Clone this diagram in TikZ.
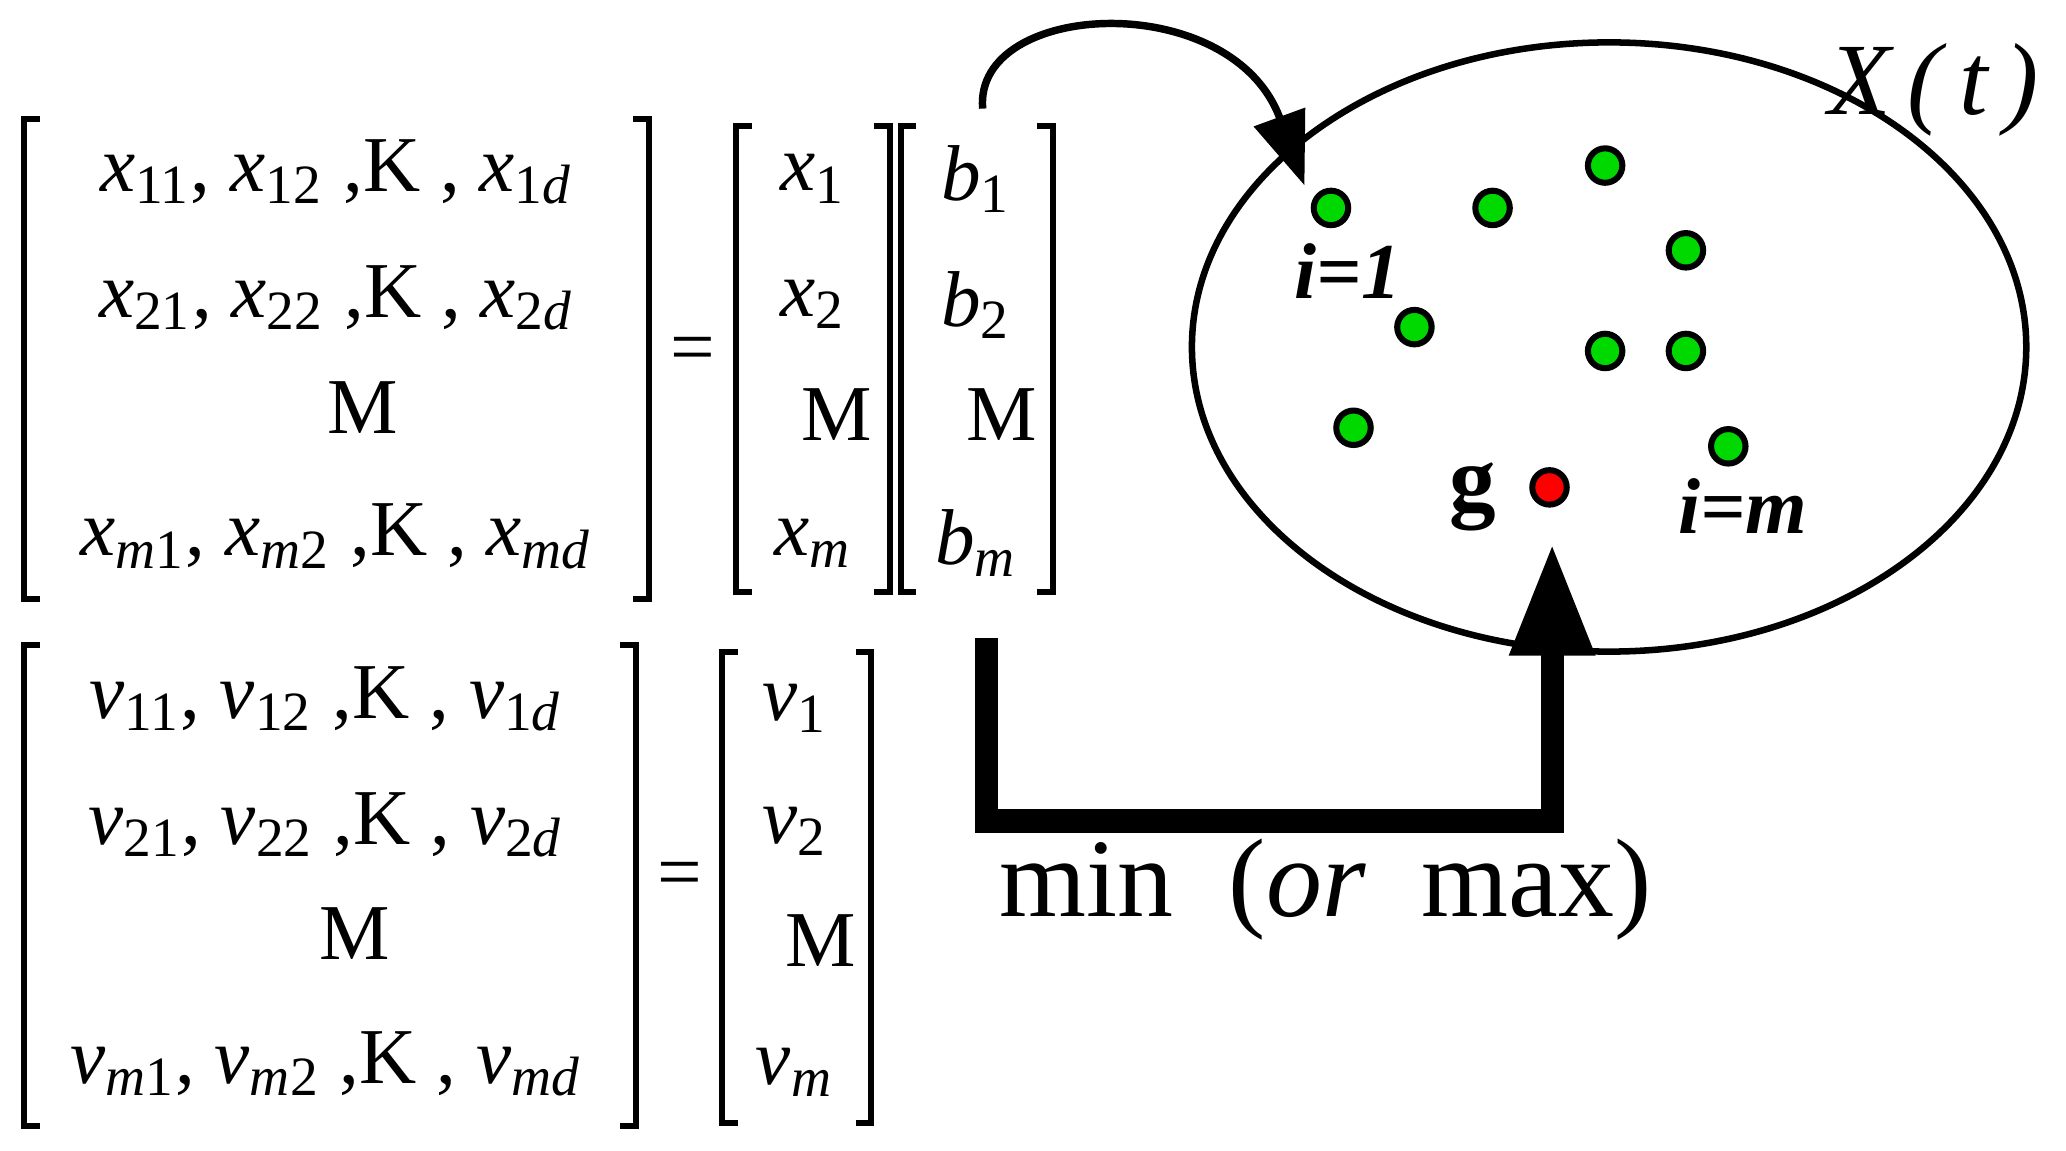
\documentclass[tikz,border=0pt]{standalone}
\usepackage{fontspec}
\setmainfont{Liberation Serif}
\usetikzlibrary{arrows.meta, positioning}
\newcommand{\xv}[1]{\textit{x}\textsubscript{#1}}
\newcommand{\vv}[1]{\textit{v}\textsubscript{#1}}
\newcommand{\bv}[1]{\textit{b}\textsubscript{#1}}
\tikzset{
  ent/.style={font=\fontsize{17}{20}\selectfont, inner sep=0pt},
  pt/.style={circle, draw=black, line width=1.3pt, fill=green!85!black, minimum size=0.26cm, inner sep=0pt},
  lbl/.style={font=\fontsize{17}{20}\selectfont\bfseries\itshape, inner sep=0pt}
}
\newcommand{\brk}[4]{% left x, right x, top y, bottom y
  \draw[line width=1.3pt] (#1+12,#3) -- (#1,#3) -- (#1,#4) -- (#1+12,#4);
  \draw[line width=1.3pt] (#2-12,#3) -- (#2,#3) -- (#2,#4) -- (#2-12,#4);}
\begin{document}
\begin{tikzpicture}[x=0.01cm, y=-0.01cm]
\useasboundingbox (0,0) rectangle (1560,869);

% position matrix
\brk{18}{490}{90}{452}
\node (x1) [ent] at (254,130) {\xv{11}, \xv{12} ,K , \textit{x}\textsubscript{1\textit{d}}};
\node (x2) [ent] at (254,225) {\xv{21}, \xv{22} ,K , \textit{x}\textsubscript{2\textit{d}}};
\node (x3) [ent] at (274,308) {M};
\node (x4) [ent] at (254,405) {\textit{x}\textsubscript{\textit{m}1}, \textit{x}\textsubscript{\textit{m}2} ,K , \textit{x}\textsubscript{\textit{md}}};
\node (eq1) [ent] at (523,268) {=};
\brk{556}{672}{95}{447}
\node [ent] at (614,135) {\xv{1}};
\node [ent] at (614,230) {\xv{2}};
\node [ent] at (632,313) {M};
\node [ent] at (614,410) {\textit{x}\textsubscript{\textit{m}}};
\brk{680}{795}{95}{447}
\node (b1) [ent] at (737,135) {\bv{1}};
\node [ent] at (737,230) {\bv{2}};
\node [ent] at (756,313) {M};
\node (bm) [ent] at (737,410) {\textit{b}\textsubscript{\textit{m}}};

% velocity matrix
\brk{18}{480}{487}{850}
\node [ent] at (246,528) {\vv{11}, \vv{12} ,K , \textit{v}\textsubscript{1\textit{d}}};
\node [ent] at (246,623) {\vv{21}, \vv{22} ,K , \textit{v}\textsubscript{2\textit{d}}};
\node [ent] at (268,705) {M};
\node [ent] at (246,803) {\textit{v}\textsubscript{\textit{m}1}, \textit{v}\textsubscript{\textit{m}2} ,K , \textit{v}\textsubscript{\textit{md}}};
\node [ent] at (513,665) {=};
\brk{545}{658}{492}{848}
\node [ent] at (600,535) {\vv{1}};
\node [ent] at (600,628) {\vv{2}};
\node [ent] at (620,710) {M};
\node [ent] at (600,810) {\textit{v}\textsubscript{\textit{m}}};

% swarm
\draw[line width=1.4pt] (1215,262) ellipse [x radius=315, y radius=230];
\node (xt) [font=\fontsize{22}{26}\selectfont\itshape] at (1460,68) {X\,(\,t\,)};
\node (p1) [pt] at (1005,157) {};
\node [pt] at (1127,157) {};
\node [pt] at (1212,125) {};
\node [pt] at (1273,189) {};
\node [pt] at (1068,247) {};
\node [pt] at (1212,265) {};
\node [pt] at (1273,265) {};
\node [pt] at (1022,323) {};
\node (pm) [pt] at (1305,337) {};
\node (g) [pt, fill=red] at (1170,368) {};
\node [lbl] at (1018,205) {i=1};
\node [font=\fontsize{20}{24}\selectfont\bfseries] at (1112,375) {g};
\node [lbl] at (1316,382) {i=m};

% arrows
\coordinate (cs) at (742,82);
\coordinate (ce) at (985,140);
\draw[line width=1.6pt, -{Triangle[length=0.55cm, width=0.4cm]}] (cs) .. controls (735,0) and (930,-10) .. (ce);
\coordinate (fs) at (745,482);
\coordinate (fe) at (1172,410);
\draw[line width=5pt, -{Triangle[length=0.85cm, width=0.6cm]}] (fs) -- (745,620) -- (1172,620) -- (fe);
\node (mm) [font=\fontsize{24}{28}\selectfont, anchor=west] at (742,672) {min\ \ (\textit{or}\ \ max)};
\end{tikzpicture}
\end{document}
